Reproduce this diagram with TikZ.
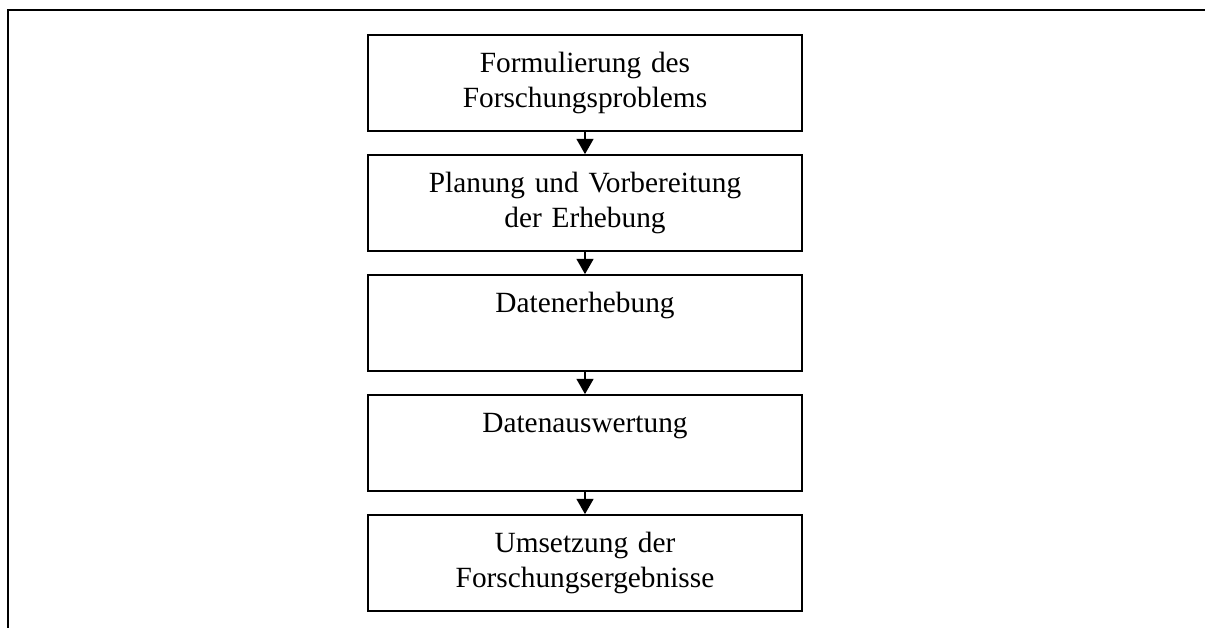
\documentclass[tikz,border=0pt]{standalone}
\usepackage{fontspec}
\setmainfont{Liberation Serif}
\usetikzlibrary{arrows.meta}
\begin{document}
\begin{tikzpicture}[x=0.75pt,y=-0.75pt,
  stepbox/.style={draw,line width=1.3pt,rectangle,minimum width=325.5pt,minimum height=72pt,inner sep=0pt},
  steptext/.style={anchor=base,inner sep=0pt,text width=320pt,align=center,font=\fontsize{22pt}{26.25pt}\selectfont},
  flow/.style={line width=1.2pt,-{Triangle[width=12.75pt,length=11.5pt]}},
  frame/.style={line width=1.6pt}]
\useasboundingbox (0,0) rectangle (1205,628);
\coordinate (ftl) at (8,10);
\coordinate (ftr) at (1205,10);
\coordinate (fbl) at (8,628);
\draw[frame] (ftr) -- (ftl) -- (fbl);
\node[stepbox] (b1) at (585,83) {};
\node[stepbox] (b2) at (585,203) {};
\node[stepbox] (b3) at (585,323) {};
\node[stepbox] (b4) at (585,443) {};
\node[stepbox] (b5) at (585,563) {};
\node[steptext] (t1) at ([yshift=-28.5pt]b1.north) {Formulierung des\\Forschungsproblems};
\node[steptext] (t2) at ([yshift=-28.5pt]b2.north) {Planung und Vorbereitung\\der Erhebung};
\node[steptext] (t3) at ([yshift=-28.5pt]b3.north) {Datenerhebung};
\node[steptext] (t4) at ([yshift=-28.5pt]b4.north) {Datenauswertung};
\node[steptext] (t5) at ([yshift=-28.5pt]b5.north) {Umsetzung der\\Forschungsergebnisse};
\draw[flow] (b1.south) -- (b2.north);
\draw[flow] (b2.south) -- (b3.north);
\draw[flow] (b3.south) -- (b4.north);
\draw[flow] (b4.south) -- (b5.north);
\end{tikzpicture}
\end{document}
